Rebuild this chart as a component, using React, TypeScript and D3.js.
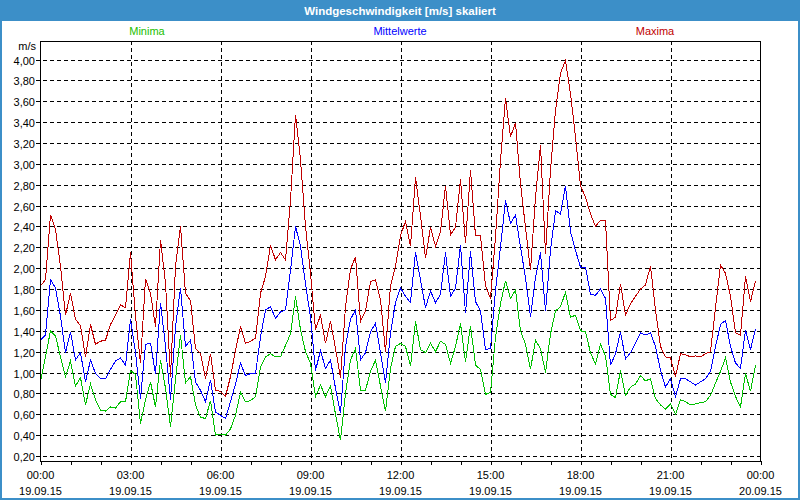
import React from "react";
import * as d3 from "d3";

const TITLE = "Windgeschwindigkeit [m/s] skaliert";
const SERIES_NAMES = ["Minima", "Mittelwerte", "Maxima"];
const Y_TICKS = [0.2, 0.4, 0.6, 0.8, 1.0, 1.2, 1.4, 1.6, 1.8, 2.0, 2.2, 2.4, 2.6, 2.8, 3.0, 3.2, 3.4, 3.6, 3.8, 4.0];
const X_TICK_HOURS = [0, 3, 6, 9, 12, 15, 18, 21, 24];
const START = new Date(2015, 8, 19, 0, 0);
const STEP_MIN = 10;

const maxima = [
  1.83, 1.89, 2.51, 2.37, 2.02, 1.55, 1.76, 1.51, 1.45, 1.15,
  1.46, 1.27, 1.30, 1.31, 1.46, 1.55, 1.65, 1.62, 2.15, 1.54,
  1.09, 1.90, 1.76, 1.44, 2.27, 1.86, 0.96, 2.02, 2.40, 1.76,
  1.69, 1.23, 1.18, 0.94, 1.18, 0.83, 0.82, 0.77, 0.96, 1.21,
  1.44, 1.28, 1.30, 1.33, 1.76, 1.92, 2.22, 2.08, 2.15, 2.08,
  2.65, 3.47, 3.04, 2.40, 1.95, 1.41, 1.55, 1.28, 1.49, 1.23,
  0.95, 1.63, 1.99, 2.11, 1.49, 1.59, 1.87, 1.89, 1.70, 1.20,
  1.83, 2.02, 2.31, 2.45, 2.21, 2.87, 2.50, 2.10, 2.39, 2.21,
  2.35, 2.79, 2.32, 2.39, 2.85, 2.24, 2.94, 2.31, 2.31, 1.83,
  1.71, 2.30, 3.03, 3.63, 3.26, 3.39, 2.81, 2.39, 1.98, 2.68,
  3.18, 2.14, 2.94, 3.51, 3.87, 3.99, 3.67, 3.26, 2.79, 2.68,
  2.52, 2.40, 2.46, 2.46, 1.50, 1.53, 1.85, 1.55, 1.66, 1.73,
  1.80, 1.84, 2.02, 1.60, 1.25, 1.15, 1.14, 0.96, 1.18, 1.17,
  1.15, 1.16, 1.15, 1.18, 1.20, 1.62, 2.03, 1.95, 1.73, 1.38,
  1.36, 1.92, 1.68, 1.88,
];

const mittelwerte = [
  1.31, 1.36, 1.89, 1.81, 1.54, 1.19, 1.39, 1.12, 1.19, 0.91,
  1.12, 0.99, 0.94, 0.94, 1.03, 1.11, 1.14, 1.07, 1.51, 1.19,
  0.75, 1.27, 1.28, 0.99, 1.67, 1.25, 0.74, 1.44, 1.81, 1.25,
  1.31, 0.91, 0.83, 0.72, 0.93, 0.62, 0.59, 0.56, 0.72, 0.89,
  1.09, 0.97, 0.99, 0.99, 1.34, 1.60, 1.63, 1.52, 1.58, 1.60,
  1.98, 2.40, 2.21, 1.85, 1.53, 1.02, 1.21, 1.04, 1.12, 0.85,
  0.61, 1.25, 1.51, 1.60, 1.12, 1.19, 1.39, 1.47, 1.19, 0.90,
  1.38, 1.67, 1.81, 1.73, 1.67, 2.15, 1.89, 1.62, 1.78, 1.67,
  1.75, 2.15, 1.73, 1.81, 2.22, 1.57, 2.16, 1.68, 1.59, 1.22,
  1.23, 1.79, 2.20, 2.65, 2.43, 2.51, 2.20, 1.91, 1.53, 1.91,
  2.15, 1.59, 2.17, 2.55, 2.52, 2.79, 2.35, 2.17, 2.01, 2.01,
  1.75, 1.74, 1.80, 1.71, 1.07, 1.18, 1.39, 1.13, 1.19, 1.28,
  1.38, 1.36, 1.38, 1.25, 1.02, 0.86, 0.94, 0.77, 0.94, 0.94,
  0.91, 0.88, 0.91, 0.94, 1.01, 1.25, 1.46, 1.50, 1.25, 1.09,
  1.04, 1.41, 1.22, 1.42,
];

const minima = [
  0.91, 1.15, 1.40, 1.35, 1.15, 0.96, 1.11, 0.87, 0.95, 0.69,
  0.89, 0.74, 0.64, 0.63, 0.67, 0.66, 0.72, 0.72, 1.02, 0.98,
  0.51, 0.74, 0.91, 0.67, 1.12, 0.85, 0.48, 0.93, 1.36, 0.90,
  0.96, 0.69, 0.57, 0.56, 0.73, 0.40, 0.41, 0.40, 0.46, 0.59,
  0.81, 0.72, 0.73, 0.77, 1.05, 1.15, 1.18, 1.15, 1.15, 1.26,
  1.37, 1.73, 1.41, 1.20, 1.09, 0.77, 0.88, 0.77, 0.87, 0.60,
  0.35, 0.80, 1.12, 1.23, 0.83, 0.83, 1.01, 1.12, 0.87, 0.63,
  1.04, 1.25, 1.28, 1.25, 1.06, 1.49, 1.22, 1.19, 1.28, 1.20,
  1.30, 1.27, 1.09, 1.25, 1.47, 1.10, 1.45, 1.07, 1.03, 0.79,
  0.81, 1.34, 1.66, 1.88, 1.71, 1.79, 1.40, 1.27, 1.03, 1.31,
  1.23, 1.00, 1.37, 1.59, 1.63, 1.77, 1.53, 1.55, 1.40, 1.39,
  1.19, 1.08, 1.27, 1.16, 0.79, 0.76, 1.02, 0.78, 0.86, 0.89,
  0.97, 0.92, 0.94, 0.75, 0.69, 0.65, 0.70, 0.60, 0.74, 0.72,
  0.69, 0.70, 0.71, 0.72, 0.78, 0.90, 1.01, 1.14, 0.91, 0.77,
  0.67, 0.99, 0.82, 1.07,
];

const COLORS = { min: "#00c000", mid: "#0000ff", max: "#c00000" };

export default function App() {
  const W = 800, H = 500;
  const left = 40.5, right = 760.5, top = 41, bottom = 461;
  const end = new Date(2015, 8, 20, 0, 0);
  const x = d3.scaleTime().domain([START, end]).range([left, right]);
  const y = d3.scaleLinear().domain([0.2, 4.0]).range([456, 59.5]);
  const t = (i: number) => new Date(START.getTime() + i * STEP_MIN * 60000);
  const line = d3.line<number>().x((_, i) => x(t(i))).y((d) => y(d));
  const fmtNum = (v: number) => v.toFixed(2).replace(".", ",");
  const fmtTime = d3.timeFormat("%H:%M");
  const fmtDate = d3.timeFormat("%d.%m.%y");
  const hourTicks = d3.range(0, 25).map((h) => new Date(START.getTime() + h * 3600000));
  const font = "'Liberation Sans', Arial, sans-serif";
  const series = [
    { data: minima, color: COLORS.min },
    { data: mittelwerte, color: COLORS.mid },
    { data: maxima, color: COLORS.max },
  ];
  const legendX = [147, 400, 655];
  const legendColors = ["#22c000", "#0000ff", "#c00000"];

  return (
    <svg width={W} height={H} style={{ position: "fixed", left: 0, top: 0 }} fontFamily={font}>
      <rect x={0} y={0} width={W} height={H} fill="#3c8fc8" />
      <rect x={2} y={21} width={W - 4} height={H - 23} fill="#ffffff" />
      <text x={400} y={14.5} textAnchor="middle" fill="#ffffff" fontWeight="bold" fontSize={11.5}>
        {TITLE}
      </text>
      {SERIES_NAMES.map((n, k) => (
        <text key={n} x={legendX[k]} y={35} textAnchor="middle" fill={legendColors[k]} fontSize={11}>
          {n}
        </text>
      ))}
      <text x={36} y={50} textAnchor="end" fill="#000" fontSize={11}>m/s</text>
      {Y_TICKS.map((v) => (
        <g key={v}>
          <line x1={36} x2={right} y1={Math.round(y(v)) + 0.5} y2={Math.round(y(v)) + 0.5}
            stroke="#000" strokeDasharray="4,3" shapeRendering="crispEdges" />
          <text x={35} y={Math.round(y(v)) + 4.5} textAnchor="end" fontSize={11} fill="#000">
            {fmtNum(v)}
          </text>
        </g>
      ))}
      {X_TICK_HOURS.slice(1, -1).map((h) => {
        const xx = Math.round(x(new Date(START.getTime() + h * 3600000))) + 0.5;
        return (
          <line key={h} x1={xx} x2={xx} y1={top} y2={bottom} stroke="#000"
            strokeDasharray="4,3" shapeRendering="crispEdges" />
        );
      })}
      {series.map((s, k) => (
        <path key={k} d={line(s.data) || ""} fill="none" stroke={s.color} strokeWidth={1}
          shapeRendering="crispEdges" />
      ))}
      <rect x={left} y={top + 0.5} width={right - left} height={bottom - top}
        fill="none" stroke="#000" strokeWidth={1} shapeRendering="crispEdges" />
      {hourTicks.map((d, k) => {
        const xx = Math.round(x(d)) + 0.5;
        return <line key={k} x1={xx} x2={xx} y1={bottom} y2={bottom + 4} stroke="#000" shapeRendering="crispEdges" />;
      })}
      {X_TICK_HOURS.map((h) => {
        const d = new Date(START.getTime() + h * 3600000);
        const xx = x(d);
        return (
          <g key={h}>
            <text x={xx} y={479} textAnchor="middle" fontSize={11} fill="#000">{fmtTime(d)}</text>
            <text x={xx} y={495} textAnchor="middle" fontSize={11} fill="#000">{fmtDate(d)}</text>
          </g>
        );
      })}
    </svg>
  );
}
